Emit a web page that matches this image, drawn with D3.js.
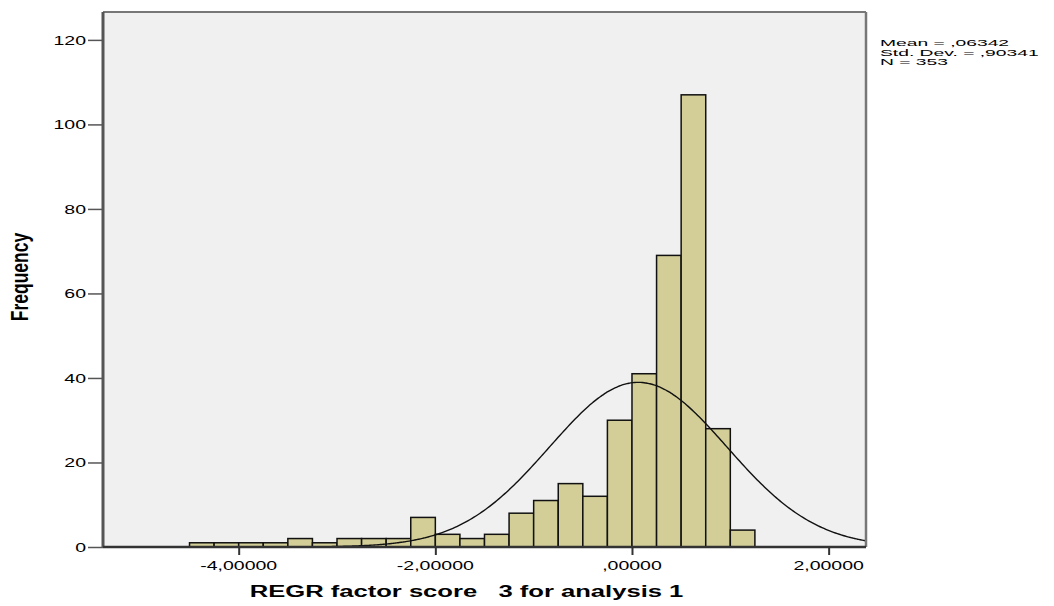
<!DOCTYPE html>
<html>
<head>
<meta charset="utf-8">
<script src="https://cdn.jsdelivr.net/npm/d3@7"></script>
<style>
  html, body { margin: 0; padding: 0; background: #ffffff; }
  svg { display: block; }
  text { font-family: "Liberation Sans", Arial, sans-serif; fill: #000; white-space: pre; }
</style>
</head>
<body>
<svg id="chart" width="1054" height="606"></svg>
<script>
// Histogram bins (lower edge of each 0.25-wide bin) and their frequencies
const binStarts = [-4.5, -4.25, -4.0, -3.75, -3.5, -3.25, -3.0, -2.75, -2.5, -2.25,
                   -2.0, -1.75, -1.5, -1.25, -1.0, -0.75, -0.5, -0.25,
                   0.0, 0.25, 0.5, 0.75, 1.0];
const counts    = [1, 1, 1, 1, 2, 1, 2, 2, 2, 7,
                   3, 2, 3, 8, 11, 15, 12, 30,
                   41, 69, 107, 28, 4];
const binWidth = 0.25;

// Summary statistics
const mean = 0.06342;
const stdDev = 0.90341;
const nCases = 353;
const statLines = ["Mean = ,06342", "Std. Dev. = ,90341", "N = 353"];

// Axis ticks
const xTicks = [-4, -2, 0, 2];
const xTickLabels = ["-4,00000", "-2,00000", ",00000", "2,00000"];
const yTicks = [0, 20, 40, 60, 80, 100, 120];
const xTitle = "REGR factor score   3 for analysis 1";
const yTitle = "Frequency";

const svg = d3.select("#chart");
const plot = { left: 103, right: 866, top: 12, bottom: 547 };

const x = d3.scaleLinear().domain([-5.38, 2.38]).range([plot.left, plot.right]);
const y = d3.scaleLinear().domain([0, 126.6]).range([plot.bottom, plot.top]);

// Plot background
svg.append("rect")
  .attr("x", plot.left).attr("y", plot.top)
  .attr("width", plot.right - plot.left).attr("height", plot.bottom - plot.top)
  .attr("fill", "#f0f0f0");

svg.append("clipPath").attr("id", "plotClip")
  .append("rect")
  .attr("x", plot.left).attr("y", plot.top)
  .attr("width", plot.right - plot.left).attr("height", plot.bottom - plot.top);

// Bars
const bins = binStarts.map((b, i) => ({ x0: b, x1: b + binWidth, count: counts[i] }));
svg.append("g")
  .selectAll("rect")
  .data(bins)
  .join("rect")
  .attr("x", d => x(d.x0))
  .attr("y", d => y(d.count))
  .attr("width", d => x(d.x1) - x(d.x0))
  .attr("height", d => y(0) - y(d.count))
  .attr("fill", "#d3ce97")
  .attr("stroke", "#111")
  .attr("stroke-width", 1.5);

// Fitted normal curve scaled to counts per bin
const normal = v => nCases * binWidth / (stdDev * Math.sqrt(2 * Math.PI)) *
  Math.exp(-0.5 * Math.pow((v - mean) / stdDev, 2));
const curvePts = d3.range(400).map(i => {
  const v = -5.38 + i * (2.38 + 5.38) / 399;
  return [v, normal(v)];
});
svg.append("path")
  .attr("clip-path", "url(#plotClip)")
  .attr("d", d3.line().x(d => x(d[0])).y(d => y(d[1])).curve(d3.curveBasis)(curvePts))
  .attr("fill", "none")
  .attr("stroke", "#111")
  .attr("stroke-width", 1.4);

// Frame
svg.append("line").attr("x1", plot.left).attr("x2", plot.right)
  .attr("y1", plot.top).attr("y2", plot.top)
  .attr("stroke", "#777").attr("stroke-width", 2);
svg.append("line").attr("x1", plot.right).attr("x2", plot.right)
  .attr("y1", plot.top).attr("y2", plot.bottom)
  .attr("stroke", "#777").attr("stroke-width", 2.5);

// Y axis
const yAxis = svg.append("g")
  .attr("transform", `translate(${plot.left},0)`)
  .call(d3.axisLeft(y).tickValues(yTicks).tickSize(15).tickFormat(""));
yAxis.select(".domain").attr("stroke", "#555").attr("stroke-width", 3)
  .attr("d", `M0,${plot.top}V${plot.bottom}`);
yAxis.selectAll(".tick line").attr("stroke", "#555").attr("stroke-width", 1.5);

svg.append("g").selectAll("text")
  .data(yTicks)
  .join("text")
  .attr("transform", d => `translate(86,${y(d) + 4.7}) scale(1.5,1)`)
  .attr("text-anchor", "end")
  .attr("font-size", 13)
  .text(d => d);

// X axis
const xAxis = svg.append("g")
  .attr("transform", `translate(0,${plot.bottom})`)
  .call(d3.axisBottom(x).tickValues(xTicks).tickSize(8).tickFormat(""));
xAxis.select(".domain").attr("stroke", "#333").attr("stroke-width", 2.5)
  .attr("d", `M${plot.left},0H${plot.right}`);
xAxis.selectAll(".tick line").attr("stroke", "#333").attr("stroke-width", 2);

svg.append("g").selectAll("text")
  .data(xTicks)
  .join("text")
  .attr("transform", d => `translate(${x(d)},569.5) scale(1.5,1)`)
  .attr("text-anchor", "middle")
  .attr("font-size", 13)
  .text((d, i) => xTickLabels[i]);

// Axis titles
svg.append("text")
  .attr("transform", "translate(466.5,597) scale(1.6,1)")
  .attr("text-anchor", "middle")
  .attr("font-size", 16)
  .attr("font-weight", "bold")
  .attr("xml:space", "preserve")
  .text(xTitle);

svg.append("text")
  .attr("transform", "translate(28,277) scale(1.33,1) rotate(-90)")
  .attr("text-anchor", "middle")
  .attr("font-size", 17.5)
  .attr("font-weight", "bold")
  .text(yTitle);

// Summary statistics block
svg.append("g").selectAll("text")
  .data(statLines)
  .join("text")
  .attr("transform", (d, i) => `translate(880,${46 + i * 9.6}) scale(2.05,1)`)
  .attr("font-size", 9.4)
  .text(d => d);
</script>
</body>
</html>
